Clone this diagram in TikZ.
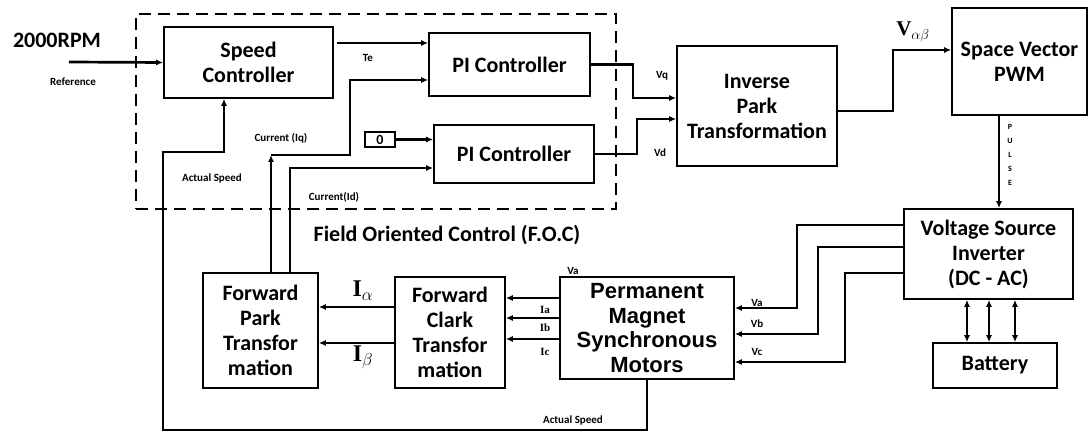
\documentclass[tikz,border=0pt]{standalone}
\usepackage{fontspec}
\setmainfont{Carlito}
\newfontfamily\arialfont{Liberation Sans}
\newfontfamily\timesfont{Liberation Serif}
\usetikzlibrary{arrows.meta,positioning,calc}

\tikzset{
  blk/.style={draw, line width=1.7pt, align=center, inner sep=0pt,
    font=\fontsize{22}{25}\selectfont\bfseries},
  focbox/.style={draw, line width=1.8pt, dash pattern=on 12pt off 7pt},
  conn/.style={line width=2.7pt},
  lbl/.style={inner sep=1pt, font=\fontsize{11}{13}\selectfont\bfseries},
  serlbl/.style={inner sep=1pt, font=\fontsize{11}{13}\selectfont\timesfont\bfseries},
  bigtxt/.style={inner sep=0pt, font=\fontsize{22}{24}\selectfont\bfseries},
  symlbl/.style={inner sep=0pt, font=\fontsize{24}{26}\selectfont\timesfont\bfseries}
}

\begin{document}
\begin{tikzpicture}[x=1pt,y=-1pt,>={Latex[length=7pt,width=6pt]}]
\useasboundingbox (0,0) rectangle (1088,435);
% F.O.C frame
\node[focbox, minimum width=480pt, minimum height=195pt] (foc) at (376,111.5) {};
\node[bigtxt] (foclbl) at (447,235) {Field Oriented Control (F.O.C)};
% blocks
\node[blk, minimum width=169pt, minimum height=71pt] (spd) at (248.5,62.5) {Speed\\Controller};
\node[blk, minimum width=161pt, minimum height=63pt] (pi1) at (509.5,64.5) {PI Controller};
\node[blk, minimum width=160pt, minimum height=58pt] (pi2) at (514,154) {PI Controller};
\node[blk, line width=1.3pt, minimum width=30pt, minimum height=15pt,
  font=\fontsize{14}{14}\selectfont\bfseries] (zero) at (380,139.5) {0};
\node[blk, minimum width=160pt, minimum height=120pt] (ipt) at (757,106) {Inverse\\Park\\Transformation};
\node[blk, minimum width=135pt, minimum height=107pt] (svm) at (1019.5,61.5) {Space Vector\\PWM};
\node[blk, minimum width=169pt, minimum height=90pt] (vsi) at (988.5,254) {Voltage Source\\Inverter\\(DC - AC)};
\node[blk, minimum width=124pt, minimum height=45pt] (bat) at (995,365.5) {Battery};
\node[blk, minimum width=174pt, minimum height=102pt,
  font=\fontsize{22}{24.5}\selectfont\arialfont\bfseries] (pmsm) at (647,328) {Permanent\\Magnet\\Synchronous\\Motors};
\node[blk, minimum width=110pt, minimum height=111pt] (fct) at (450,332.5) {Forward\\Clark\\Transfor\\mation};
\node[blk, minimum width=115pt, minimum height=115pt] (fpt) at (260.5,330.5) {Forward\\Park\\Transfor\\mation};
% free ends and corners
\coordinate (refs) at (69,62);
\coordinate (tes) at (337,43);
\coordinate (iqa) at (271,155);
\coordinate (iqb) at (350,80);
\coordinate (ida) at (290,168);
\coordinate (vqc) at (633,98);
\coordinate (vdc) at (637,119);
\coordinate (vab) at (893,50);
\coordinate (pls) at (999,150);
\coordinate (asa) at (163,430);
\coordinate (asb) at (224,152);
% connectors
\draw[conn,->] (refs) -- (spd.west);
\draw[conn,->] (tes) -- (tes -| pi1.west);
\draw[conn,->] (iqa |- fpt.north) -- (iqa);
\draw[conn,->] (iqa) -| (iqb) -- (iqb -| pi1.west);
\draw[conn,->] (ida |- fpt.north) -- (ida) -- (ida -| pi2.west);
\draw[conn,->] (zero.east) -- (zero.east -| pi2.west);
\draw[conn,->] (pi1.east) -| (vqc) -- (vqc -| ipt.west);
\draw[conn,->] (pi2.east) -| (vdc) -- (vdc -| ipt.west);
\draw[conn,->] ([yshift=-5pt]ipt.east) -| (vab) -- (vab -| svm.west);
\draw[conn,->] (pls |- svm.south) -- (pls |- vsi.north);
\foreach \n/\x/\ya/\yb in {a/797/225/308, b/818/247/334, c/845/273/362} {
  \coordinate (v\n1) at (\x,\ya);
  \coordinate (v\n2) at (\x,\yb);
  \draw[conn,->] (v\n1 -| vsi.west) -- (v\n1) -- (v\n2) -- (v\n2 -| pmsm.east);
}
\foreach \x [count=\i] in {967,989,1015} {
  \coordinate (bt\i) at (\x,320);
  \draw[conn,<->] (bt\i |- vsi.south) -- (bt\i |- bat.north);
}
\foreach \y [count=\i] in {298,318,339} {
  \coordinate (ph\i) at (530,\y);
  \draw[conn,->] (ph\i -| pmsm.west) -- (ph\i -| fct.east);
}
\foreach \y [count=\i] in {307,343} {
  \coordinate (ab\i) at (356,\y);
  \draw[conn,->] (ab\i -| fct.west) -- (ab\i -| fpt.east);
}
% speed feedback
\draw[conn,->] (pmsm.south) |- (asa) |- (asb) -- (asb |- spd.south);
% labels
\node[bigtxt] (rpm) at (57,40) {2000RPM};
\node[lbl] (lref) at (73,82) {Reference};
\node[lbl] (lte) at (368,58) {Te};
\node[lbl] (liq) at (281,138) {Current (Iq)};
\node[lbl] (las) at (212,179) {Actual Speed};
\node[lbl] (lid) at (334,197) {Current(Id)};
\node[lbl] (lvq) at (662,76) {Vq};
\node[lbl] (lvd) at (660,153) {Vd};
\node[symlbl, font=\fontsize{21}{24}\selectfont\timesfont\bfseries] (lvab) at (913,32) {V$_{\alpha\beta}$};
\node[lbl, align=center, font=\fontsize{8}{14}\selectfont\bfseries] (lpls) at (1010,155) {P\\U\\L\\S\\E};
\node[lbl] (lva) at (757,303) {Va};
\node[lbl] (lvb) at (757,324) {Vb};
\node[lbl] (lvc) at (757,352) {Vc};
\node[lbl] (lvat) at (573,271) {Va};
\node[serlbl] (lia) at (545,310) {Ia};
\node[serlbl] (lib) at (545,328) {Ib};
\node[serlbl] (lic) at (545,352) {Ic};
\node[symlbl] (lial) at (363,291) {I$_{\alpha}$};
\node[symlbl] (libe) at (363,357) {I$_{\beta}$};
\node[lbl] (las2) at (573,421) {Actual Speed};
\end{tikzpicture}
\end{document}
